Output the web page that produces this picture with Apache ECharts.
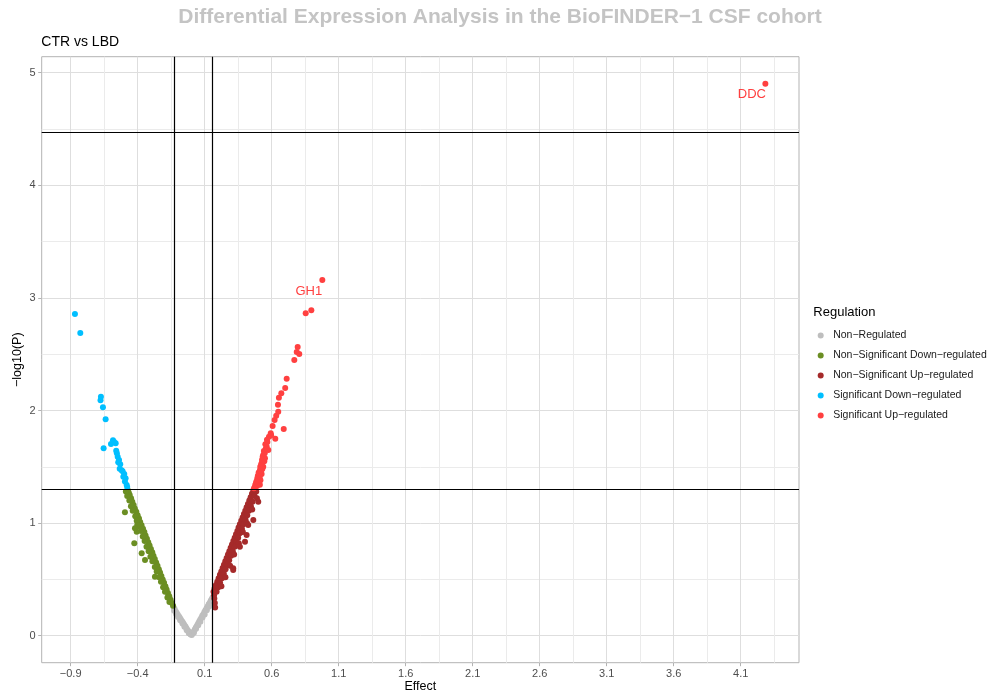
<!DOCTYPE html>
<html>
<head>
<meta charset="utf-8">
<script src="https://cdn.jsdelivr.net/npm/echarts@6/dist/echarts.min.js"></script>
<style>html,body{margin:0;padding:0;background:#fff}#c{width:987px;height:697px}</style>
</head>
<body>
<div id="c"></div>
<script>
const FONT = "'Liberation Sans', Arial, sans-serif";

const seriesNames = ['Non\u2212Regulated', 'Non\u2212Significant Down\u2212regulated', 'Non\u2212Significant Up\u2212regulated', 'Significant Down\u2212regulated', 'Significant Up\u2212regulated'];
const seriesColors = ['#BEBEBE', '#6B8E23', '#A52A2A', '#00BFFF', '#FF4040'];

const nonRegulated = [
  [-0.005,0.01],[-0.012,0.022],[-0.02,0.036],[-0.027,0.05],[-0.036,0.066],[-0.043,0.081],[-0.052,0.096],[-0.06,0.112],
  [-0.067,0.126],[-0.076,0.141],[-0.084,0.157],[-0.091,0.171],[-0.1,0.186],[-0.108,0.202],[-0.116,0.217],[-0.124,0.236],[-0.131,0.251],
  [-0.018,0.021],[-0.034,0.048],[-0.051,0.079],[-0.066,0.108],[-0.083,0.138],[-0.098,0.166],[-0.113,0.192],[-0.128,0.221],
  [0.004,0.006],[0.01,0.021],[0.018,0.038],[0.026,0.054],[0.034,0.073],[0.042,0.089],[0.05,0.107],[0.058,0.123],
  [0.066,0.142],[0.074,0.157],[0.082,0.176],[0.09,0.191],[0.098,0.21],[0.106,0.225],[0.114,0.244],[0.122,0.259],
  [0.13,0.278],[0.138,0.293],[0.146,0.312],[0.154,0.327],[0.161,0.344],
  [0.02,0.026],[0.036,0.061],[0.052,0.093],[0.068,0.124],[0.084,0.161],[0.1,0.189],[0.116,0.226],[0.132,0.258],[0.148,0.291],[0.16,0.314]
];

const nsDown = [
  [-0.472,1.29],[-0.466,1.27],[-0.459,1.25],[-0.449,1.22],[-0.44,1.19],[-0.43,1.16],[-0.421,1.13],[-0.41,1.1],
  [-0.4,1.07],[-0.39,1.04],[-0.381,1.01],[-0.371,0.98],[-0.36,0.95],[-0.35,0.92],[-0.341,0.89],[-0.331,0.86],
  [-0.321,0.83],[-0.311,0.8],[-0.301,0.77],[-0.291,0.74],[-0.282,0.71],[-0.272,0.68],[-0.262,0.65],[-0.252,0.62],
  [-0.242,0.59],[-0.233,0.56],[-0.223,0.53],[-0.213,0.5],[-0.203,0.47],[-0.193,0.44],[-0.184,0.41],[-0.174,0.38],
  [-0.164,0.35],[-0.154,0.32],[-0.144,0.29],[-0.136,0.265],
  [-0.488,1.28],[-0.478,1.24],[-0.462,1.2],[-0.45,1.15],[-0.437,1.11],[-0.418,1.06],[-0.407,1.02],[-0.392,0.97],
  [-0.375,0.93],[-0.362,0.88],[-0.348,0.84],[-0.334,0.79],[-0.318,0.75],[-0.305,0.7],[-0.29,0.66],[-0.272,0.61],
  [-0.258,0.57],[-0.24,0.52],[-0.226,0.48],[-0.21,0.43],[-0.196,0.39],[-0.178,0.34],[-0.163,0.3],
  [-0.495,1.096],[-0.425,0.821],[-0.407,0.924],[-0.37,0.732],[-0.345,0.672],[-0.271,0.524],[-0.403,0.983],[-0.42,0.954]
];

const nsUp = [
  [0.463,1.29],[0.453,1.26],[0.443,1.23],[0.433,1.2],[0.423,1.17],[0.413,1.14],[0.403,1.11],[0.393,1.08],
  [0.383,1.05],[0.373,1.02],[0.363,0.99],[0.353,0.96],[0.344,0.93],[0.334,0.9],[0.324,0.87],[0.314,0.84],
  [0.304,0.81],[0.294,0.78],[0.284,0.75],[0.274,0.72],[0.264,0.69],[0.254,0.66],[0.244,0.63],[0.234,0.6],
  [0.224,0.57],[0.214,0.54],[0.204,0.51],[0.194,0.48],[0.184,0.45],[0.174,0.42],[0.166,0.39],
  [0.17,0.36],[0.172,0.33],[0.176,0.29],[0.178,0.25],
  [0.485,1.28],[0.472,1.24],[0.457,1.19],[0.445,1.15],[0.43,1.11],[0.418,1.07],[0.405,1.03],[0.39,0.99],
  [0.378,0.95],[0.362,0.91],[0.35,0.87],[0.337,0.83],[0.324,0.79],[0.31,0.75],[0.297,0.71],[0.283,0.67],
  [0.27,0.63],[0.256,0.59],[0.243,0.55],[0.229,0.51],[0.215,0.47],[0.202,0.43],[0.189,0.39],
  [0.49,1.22],[0.455,1.12],[0.415,1.0],[0.385,0.92],[0.355,0.82],[0.32,0.72],[0.29,0.62],[0.255,0.52],[0.225,0.44],
  [0.5,1.19],[0.463,1.028],[0.413,0.894],[0.401,0.835],[0.363,0.79],[0.313,0.583],[0.425,0.983],[0.313,0.599]
];

const sigDown = [
  [-0.868,2.857],[-0.828,2.688],[-0.674,2.123],[-0.677,2.09],[-0.659,2.028],[-0.639,1.922],[-0.654,1.664],
  [-0.584,1.735],[-0.599,1.703],[-0.564,1.709],[-0.575,1.72],[-0.56,1.643],[-0.549,1.59],[-0.539,1.56],
  [-0.53,1.522],[-0.534,1.483],[-0.5,1.436],[-0.49,1.398],[-0.507,1.412],[-0.482,1.338],[-0.478,1.321],
  [-0.52,1.47],[-0.545,1.54],[-0.555,1.62],[-0.512,1.46],[-0.495,1.37]
];

const sigUp = [
  [0.468,1.309],[0.483,1.353],[0.5,1.353],[0.493,1.398],[0.507,1.436],[0.525,1.436],[0.513,1.472],[0.525,1.531],
  [0.537,1.501],[0.537,1.605],[0.55,1.575],[0.563,1.679],[0.575,1.649],[0.58,1.767],[0.593,1.797],[0.627,1.75],
  [0.607,1.862],[0.69,1.836],[0.622,1.916],[0.634,1.954],[0.649,1.989],[0.647,2.052],[0.654,2.114],[0.672,2.153],
  [0.701,2.2],[0.712,2.282],[0.769,2.448],[0.787,2.52],[0.806,2.502],[0.794,2.564],[0.854,2.863],[0.896,2.89],
  [0.978,3.159],
  [0.475,1.32],[0.49,1.33],[0.478,1.34],[0.512,1.34],[0.486,1.37],[0.5,1.39],[0.516,1.38],[0.497,1.42],
  [0.511,1.41],[0.503,1.45],[0.52,1.46],[0.515,1.5],[0.53,1.48],[0.522,1.52],[0.528,1.56],[0.545,1.55],
  [0.533,1.59],[0.548,1.62],[0.542,1.64],[0.556,1.66],[0.553,1.7],[0.568,1.72],[0.565,1.74],[0.596,1.78],
  [4.284,4.902]
];

const geneLabels = [['DDC', 4.284, 4.902], ['GH1', 0.978, 3.159]];

const xThresholds = [-0.134, 0.164];
const yThresholds = [1.301, 4.47];

const xTicks = [-0.9, -0.4, 0.1, 0.6, 1.1, 1.6, 2.1, 2.6, 3.1, 3.6, 4.1];
const xMinorTicks = [-0.65, -0.15, 0.35, 0.85, 1.35, 1.85, 2.35, 2.85, 3.35, 3.85, 4.35];
const yTicks = [0, 1, 2, 3, 4, 5];
const yMinorTicks = [0.5, 1.5, 2.5, 3.5, 4.5];

const xRange = [-1.116, 4.535];
const yRange = [-0.24, 5.142];

const groups = [nonRegulated, nsDown, nsUp, sigDown, sigUp];

function buildData(points, color) {
  return points.map(p => {
    const g = geneLabels.find(l => l[1] === p[0] && l[2] === p[1]);
    if (!g) return p;
    return {
      value: p, name: g[0],
      label: {show: true, formatter: '{b}', position: 'inside', offset: [-13.5, 11],
        color: color, fontSize: 13, fontFamily: FONT}
    };
  });
}

const series = groups.map((pts, i) => {
  const s = {
    name: seriesNames[i], type: 'scatter', xAxisIndex: 0, yAxisIndex: 0,
    symbol: 'circle', symbolSize: 6,
    itemStyle: {color: seriesColors[i], opacity: 1},
    emphasis: {disabled: true},
    data: buildData(pts, seriesColors[i])
  };
  if (i === 0) {
    s.markLine = {
      silent: true, symbol: 'none', animation: false,
      label: {show: false},
      lineStyle: {color: '#000', width: 1.2, type: 'solid'},
      data: xThresholds.map(v => ({xAxis: v})).concat(yThresholds.map(v => ({yAxis: v})))
    };
  }
  return s;
});

const fmt = v => (Math.round(v * 10) / 10).toFixed(1).replace('-', '\u2212');

const chart = echarts.init(document.getElementById('c'), null, {renderer: 'canvas'});
chart.setOption({
  animation: false,
  backgroundColor: '#fff',
  textStyle: {fontFamily: FONT},
  grid: {left: 41.7, right: 188, top: 56.7, bottom: 34.3, show: true,
    borderColor: '#B3B3B3', borderWidth: 1, backgroundColor: 'transparent',
    containLabel: false, outerBoundsMode: 'none'},
  xAxis: [{
    type: 'value', min: xRange[0], max: xRange[1], position: 'bottom',
    name: 'Effect', nameLocation: 'middle', nameGap: 17, nameMoveOverlap: false,
    nameTextStyle: {color: '#000', fontSize: 12.5, fontFamily: FONT},
    axisLine: {show: false, onZero: false},
    axisTick: {show: true, length: 3.5, lineStyle: {color: '#B3B3B3'}, customValues: xTicks},
    axisLabel: {customValues: xTicks, formatter: fmt, color: '#4D4D4D', fontSize: 11, margin: 6, fontFamily: FONT},
    splitLine: {show: true, lineStyle: {color: '#DEDEDE', width: 1}}
  }, {
    type: 'value', min: xRange[0], max: xRange[1], position: 'bottom',
    axisLine: {show: false, onZero: false},
    axisTick: {show: false, customValues: xMinorTicks},
    axisLabel: {show: false, customValues: xMinorTicks},
    splitLine: {show: true, lineStyle: {color: '#EBEBEB', width: 1}}
  }],
  yAxis: [{
    type: 'value', min: yRange[0], max: yRange[1], position: 'left',
    name: '\u2212log10(P)', nameLocation: 'middle', nameGap: 18, nameRotate: 90, nameMoveOverlap: false,
    nameTextStyle: {color: '#000', fontSize: 12.5, fontFamily: FONT},
    axisLine: {show: false, onZero: false},
    axisTick: {show: true, length: 3.5, lineStyle: {color: '#B3B3B3'}, customValues: yTicks},
    axisLabel: {customValues: yTicks, formatter: v => String(Math.round(v)), color: '#4D4D4D', fontSize: 11, margin: 6, fontFamily: FONT},
    splitLine: {show: true, lineStyle: {color: '#DEDEDE', width: 1}}
  }, {
    type: 'value', min: yRange[0], max: yRange[1], position: 'left',
    axisLine: {show: false, onZero: false},
    axisTick: {show: false, customValues: yMinorTicks},
    axisLabel: {show: false, customValues: yMinorTicks},
    splitLine: {show: true, lineStyle: {color: '#EBEBEB', width: 1}}
  }],
  legend: {
    show: true, orient: 'vertical', left: 817.7, top: 328.6, padding: 0,
    icon: 'circle', itemWidth: 15, itemHeight: 6, itemGap: 6,
    selectedMode: false,
    textStyle: {color: '#1A1A1A', fontSize: 10.5, lineHeight: 14, fontFamily: FONT},
    data: seriesNames
  },
  graphic: [
    {type: 'text', x: 500, y: 17, silent: true, style: {
      text: 'Differential Expression Analysis in the BioFINDER\u22121 CSF cohort',
      fill: '#C4C4C4', font: 'bold 21px ' + FONT, textAlign: 'center', textVerticalAlign: 'middle'}},
    {type: 'text', x: 41.3, y: 41.7, silent: true, style: {
      text: 'CTR vs LBD', fill: '#000', font: '14px ' + FONT, textAlign: 'left', textVerticalAlign: 'middle'}},
    {type: 'text', x: 813.3, y: 312.5, silent: true, style: {
      text: 'Regulation', fill: '#000', font: '13px ' + FONT, textAlign: 'left', textVerticalAlign: 'middle'}}
  ],
  series: series
});
</script>
</body>
</html>
